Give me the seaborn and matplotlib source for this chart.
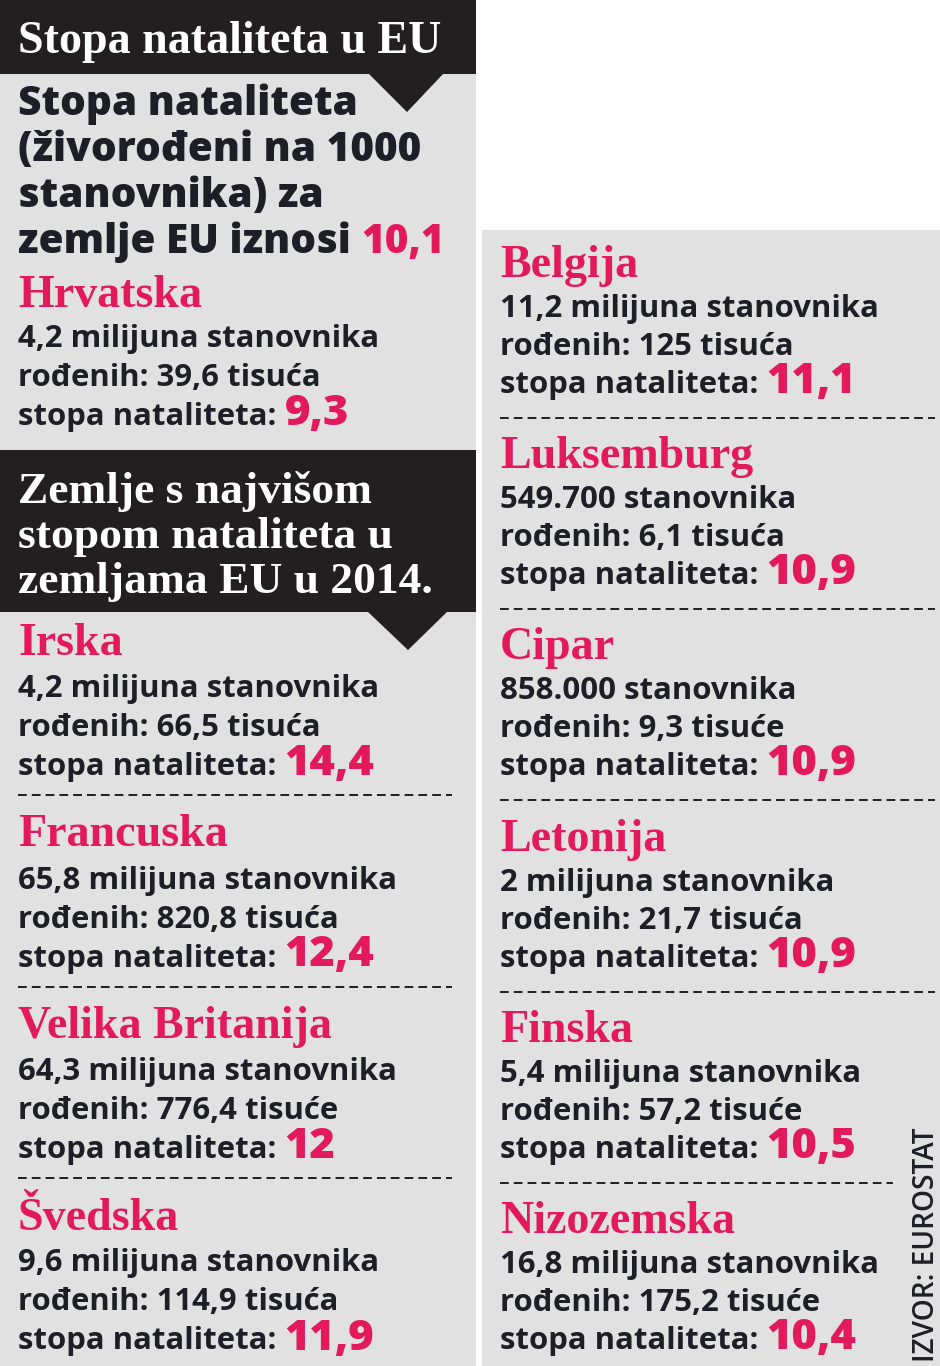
import matplotlib
matplotlib.use("Agg")
import matplotlib.pyplot as plt
import seaborn as sns
from matplotlib.patches import Rectangle, Polygon, Ellipse

title = "Stopa nataliteta u EU"
intro_lines = ["Stopa nataliteta", "(živorođeni na 1000", "stanovnika) za", "zemlje EU iznosi"]
eu_rate = "10,1"

hr_name = "Hrvatska"
hr_pop = "4,2 milijuna"
hr_births = "39,6 tisuća"
hr_rate = "9,3"

top_heading = ["Zemlje s najvišom", "stopom nataliteta u", "zemljama EU u 2014."]

left_countries = ["Irska", "Francuska", "Velika Britanija", "Švedska"]
left_pop = ["4,2 milijuna", "65,8 milijuna", "64,3 milijuna", "9,6 milijuna"]
left_births = ["66,5 tisuća", "820,8 tisuća", "776,4 tisuće", "114,9 tisuća"]
left_rates = ["14,4", "12,4", "12", "11,9"]

right_countries = ["Belgija", "Luksemburg", "Cipar", "Letonija", "Finska", "Nizozemska"]
right_pop = ["11,2 milijuna", "549.700", "858.000", "2 milijuna", "5,4 milijuna", "16,8 milijuna"]
right_births = ["125 tisuća", "6,1 tisuća", "9,3 tisuće", "21,7 tisuća", "57,2 tisuće", "175,2 tisuće"]
right_rates = ["11,1", "10,9", "10,9", "10,9", "10,5", "10,4"]

source = "IZVOR: EUROSTAT"

PINK = "#e2195b"
GRAY = "#e2e1e1"
BLACK = "#231f20"
INK = "#1e1e26"

sns.set_theme(style="white")
plt.rcParams['font.family'] = ['Open Sans', 'DejaVu Sans']

SANS = ['Open Sans', 'DejaVu Sans']
SERIF = ['Liberation Serif', 'DejaVu Serif']


def pt(px):
    return px * 72 / 100


fig = plt.figure(figsize=(9.4, 13.66), dpi=100, facecolor="white")
ax = fig.add_axes([0, 0, 1, 1])
ax.set_xlim(0, 940)
ax.set_ylim(1366, 0)
ax.axis("off")

# panels
ax.add_patch(Rectangle((0, 0), 476, 1366, color=GRAY, lw=0))
ax.add_patch(Rectangle((482, 230), 458, 1136, color=GRAY, lw=0))
ax.add_patch(Ellipse((242, -18), 106, 46, color=PINK, lw=0))
ax.add_patch(Rectangle((0, 0), 476, 74, color=BLACK, lw=0))
ax.add_patch(Polygon([(368, 73), (444, 73), (407, 112)], color=BLACK, lw=0))
ax.add_patch(Rectangle((0, 450), 476, 162, color=BLACK, lw=0))
ax.add_patch(Polygon([(367, 611), (448, 611), (408, 650)], color=BLACK, lw=0))

renderer = fig.canvas.get_renderer()


def after(t, gap=8):
    bb = t.get_window_extent(renderer)
    return ax.transData.inverted().transform((bb.x1, bb.y0))[0] + gap


# title
ax.text(18, 53, title, color="white", fontsize=pt(46), fontweight="bold",
        family=SERIF, va="baseline")

# intro paragraph
for i, line in enumerate(intro_lines):
    t = ax.text(18, 115 + i * 46, line, color=INK, fontsize=pt(40.5),
                fontweight="heavy", family=SANS, va="baseline")
ax.text(after(t, 10), 115 + 3 * 46, eu_rate, color=PINK, fontsize=pt(40.5),
        fontweight="heavy", family=SANS, va="baseline")


def block(x, b, name, pop, births, rate, step=(40, 79, 118)):
    ax.text(x, b, name, color=PINK, fontsize=pt(46), fontweight="bold",
            family=SERIF, va="baseline")
    ax.text(x, b + step[0], pop + " stanovnika", color=INK, fontsize=pt(31.2),
            fontweight="bold", family=SANS, va="baseline")
    ax.text(x, b + step[1], "rođenih: " + births, color=INK, fontsize=pt(31.2),
            fontweight="bold", family=SANS, va="baseline")
    t = ax.text(x, b + step[2], "stopa nataliteta:", color=INK, fontsize=pt(31.2),
                fontweight="bold", family=SANS, va="baseline")
    ax.text(after(t), b + step[2], rate, color=PINK, fontsize=pt(43.5),
            fontweight="heavy", family=SANS, va="baseline")


block(18, 307, hr_name, hr_pop, hr_births, hr_rate)

# second heading
for i, line in enumerate(top_heading):
    ax.text(18, 503 + i * 45, line, color="white", fontsize=pt(45.5),
            fontweight="bold", family=SERIF, va="baseline")

for i, name in enumerate(left_countries):
    b = 655 + i * 191.5
    block(18, b, name, left_pop[i], left_births[i], left_rates[i], step=(42, 81, 120))
    if i < len(left_countries) - 1:
        ax.plot([18, 452], [b + 140, b + 140], color=INK, lw=1.4, dashes=(4.5, 2.6))

for i, name in enumerate(right_countries):
    b = 277 + i * 191.2
    block(500, b, name, right_pop[i], right_births[i], right_rates[i], step=(40, 78, 116))
    if i < len(right_countries) - 1:
        x1 = 893 if i == len(right_countries) - 2 else 935
        ax.plot([500, x1], [b + 141, b + 141], color=INK, lw=1.4, dashes=(4.5, 2.6))

ax.text(927, 1362, source, rotation=90, ha="center", va="bottom", color=INK,
        fontsize=pt(28), fontweight="semibold", family=SANS)

fig.savefig("out.png", dpi=100, facecolor="white")
